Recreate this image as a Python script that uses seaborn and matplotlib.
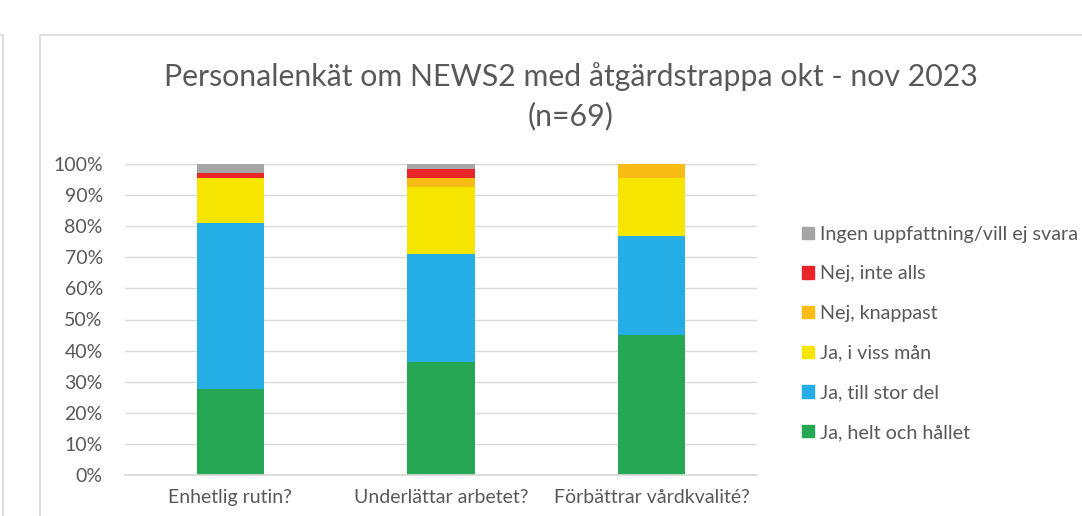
import matplotlib
matplotlib.use("Agg")
import matplotlib.pyplot as plt
import seaborn as sns
import pandas as pd
import numpy as np
from matplotlib.lines import Line2D
from matplotlib.ticker import PercentFormatter

categories = ["Enhetlig rutin?", "Underlättar arbetet?", "Förbättrar vårdkvalité?"]
series_names = ["Ja, helt och hållet", "Ja, till stor del", "Ja, i viss mån",
                "Nej, knappast", "Nej, inte alls", "Ingen uppfattning/vill ej svara"]
ja_helt = [27.5, 36.2, 44.9]
ja_stor = [53.6, 34.8, 31.9]
ja_viss = [14.5, 21.7, 18.8]
nej_knappast = [0.0, 2.9, 4.4]
nej_inte = [1.5, 2.9, 0.0]
ingen = [2.9, 1.5, 0.0]
colors = ["#26A753", "#25AEE5", "#F5E500", "#F9BC15", "#E8262A", "#A5A5A5"]

title = "Personalenkät om NEWS2 med åtgärdstrappa okt - nov 2023\n(n=69)"

sns.set_theme(style="white")
plt.rcParams['font.family'] = ['Lato', 'DejaVu Sans']

fig = plt.figure(figsize=(10.82, 5.16), dpi=100)
ax = fig.add_axes([125/1082, 1-475/516, (757-125)/1082, (475-164)/516])

values = [ja_helt, ja_stor, ja_viss, nej_knappast, nej_inte, ingen]
bottom = np.zeros(len(categories))
handles = []
for name, vals, col in zip(series_names, values, colors):
    df = pd.DataFrame({"cat": categories, "val": vals})
    sns.barplot(data=df, x="cat", y="val", color=col, width=0.32, ax=ax,
                bottom=bottom, saturation=1, edgecolor="none", linewidth=0)
    bottom = bottom + np.array(vals)
    handles.append(plt.Rectangle((0, 0), 1, 1, color=col))

ax.set_ylim(0, 100)
ax.set_xlim(-0.5, 2.5)
ax.set_yticks(np.arange(0, 101, 10))
ax.yaxis.set_major_formatter(PercentFormatter(decimals=0))
ax.grid(axis="y", color="#D9D9D9", linewidth=1)
ax.set_axisbelow(True)
for s in ["top", "right", "left"]:
    ax.spines[s].set_visible(False)
ax.spines["bottom"].set_color("#D9D9D9")
ax.set_xlabel("")
ax.set_ylabel("")
ax.tick_params(axis="both", colors="#595959", labelsize=14, length=0)
ax.tick_params(axis="y", pad=16)
ax.tick_params(axis="x", pad=10)

leg = fig.legend(handles[::-1], series_names[::-1], loc="upper left",
                 bbox_to_anchor=(784/1082, 1-208/516), frameon=False,
                 fontsize=14.2, handlelength=0.6, handleheight=0.6,
                 handletextpad=0.3, labelspacing=1.15, labelcolor="#595959")

fig.text(571/1082, 1-96/516, title, ha="center", va="center", fontsize=21.8,
         color="#595959", linespacing=1.45)

# chart frames
fc = "#D9D9D9"
fig.add_artist(Line2D([40/1082, 1], [1-35/516, 1-35/516], color=fc, lw=1.2))
fig.add_artist(Line2D([40/1082, 40/1082], [0, 1-35/516], color=fc, lw=1.2))
fig.add_artist(Line2D([0, 3/1082], [1-35/516, 1-35/516], color=fc, lw=1.2))
fig.add_artist(Line2D([3/1082, 3/1082], [0, 1-35/516], color=fc, lw=1.2))

fig.savefig("out.png", dpi=100)
